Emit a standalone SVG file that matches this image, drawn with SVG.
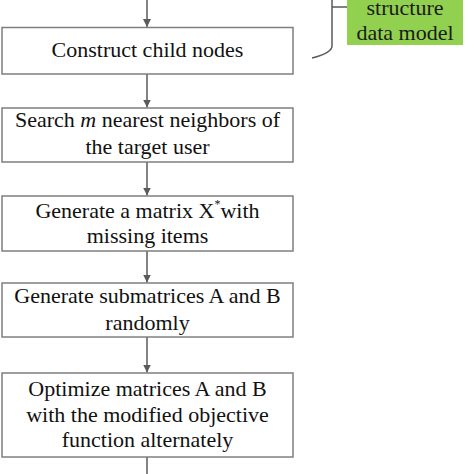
<svg xmlns="http://www.w3.org/2000/svg" width="474" height="474" viewBox="0 0 474 474">
<defs>
<style>
.box{fill:#ffffff;stroke:#7f7f7f;stroke-width:1.5}
.t{font-family:'Liberation Serif',serif;font-size:22px;fill:#111111;text-anchor:middle}
.c{stroke:#5a5a5a;stroke-width:1.5;fill:none}
</style>
<marker id="ah" markerWidth="8" markerHeight="8" refX="8" refY="4" orient="auto" markerUnits="userSpaceOnUse">
<path d="M0,0 L8,4 L0,8 Z" fill="#5a5a5a"/>
</marker>
</defs>
<rect width="474" height="474" fill="#ffffff"/>
<g id="connectors">
<line class="c" x1="147" y1="0" x2="147" y2="27" marker-end="url(#ah)"/>
<line class="c" x1="147" y1="74" x2="147" y2="107.5" marker-end="url(#ah)"/>
<line class="c" x1="147" y1="162" x2="147" y2="195.5" marker-end="url(#ah)"/>
<line class="c" x1="147" y1="251" x2="147" y2="282.5" marker-end="url(#ah)"/>
<line class="c" x1="147" y1="337" x2="147" y2="372.5" marker-end="url(#ah)"/>
<line class="c" x1="147" y1="457" x2="147" y2="474"/>
<path class="c" d="M347,7 H332 M332,0 V46 Q332,53 312,58"/>
</g>
<g id="node-structure">
<rect x="347" y="-5" width="116" height="50" fill="#92D050"/>
<text class="t" x="405" y="15" font-family="'Liberation Serif', serif" style="font-family:'Liberation Serif',serif;fill:#1a1a1a">structure</text>
<text class="t" x="405" y="40" font-family="'Liberation Serif', serif" style="font-family:'Liberation Serif',serif;fill:#1a1a1a">data model</text>
</g>
<g id="node-construct">
<rect class="box" x="2" y="27.5" width="291" height="46.5"/>
<text class="t" x="147.5" y="57" font-family="'Liberation Serif', serif" style="font-family:'Liberation Serif',serif">Construct child nodes</text>
</g>
<g id="node-search">
<rect class="box" x="2" y="108" width="291" height="54"/>
<text class="t" x="147.5" y="127" font-family="'Liberation Serif', serif" style="font-family:'Liberation Serif',serif">Search <tspan font-style="italic">m</tspan> nearest neighbors of</text>
<text class="t" x="147.5" y="154" font-family="'Liberation Serif', serif" style="font-family:'Liberation Serif',serif">the target user</text>
</g>
<g id="node-matrix">
<rect class="box" x="2" y="196" width="291" height="55"/>
<text class="t" x="147.5" y="218" font-family="'Liberation Serif', serif" style="font-family:'Liberation Serif',serif">Generate a matrix X<tspan font-size="12" dy="-10">*</tspan><tspan dy="10">with</tspan></text>
<text class="t" x="147.5" y="243" font-family="'Liberation Serif', serif" style="font-family:'Liberation Serif',serif">missing items</text>
</g>
<g id="node-submatrices">
<rect class="box" x="2" y="283" width="291" height="54"/>
<text class="t" x="147.5" y="303" font-family="'Liberation Serif', serif" style="font-family:'Liberation Serif',serif">Generate submatrices A and B</text>
<text class="t" x="147.5" y="330" font-family="'Liberation Serif', serif" style="font-family:'Liberation Serif',serif">randomly</text>
</g>
<g id="node-optimize">
<rect class="box" x="2" y="373" width="291" height="84"/>
<text class="t" x="147.5" y="396" font-family="'Liberation Serif', serif" style="font-family:'Liberation Serif',serif">Optimize matrices A and B</text>
<text class="t" x="147.5" y="422" font-family="'Liberation Serif', serif" style="font-family:'Liberation Serif',serif">with the modified objective</text>
<text class="t" x="147.5" y="447" font-family="'Liberation Serif', serif" style="font-family:'Liberation Serif',serif">function alternately</text>
</g>
</svg>
